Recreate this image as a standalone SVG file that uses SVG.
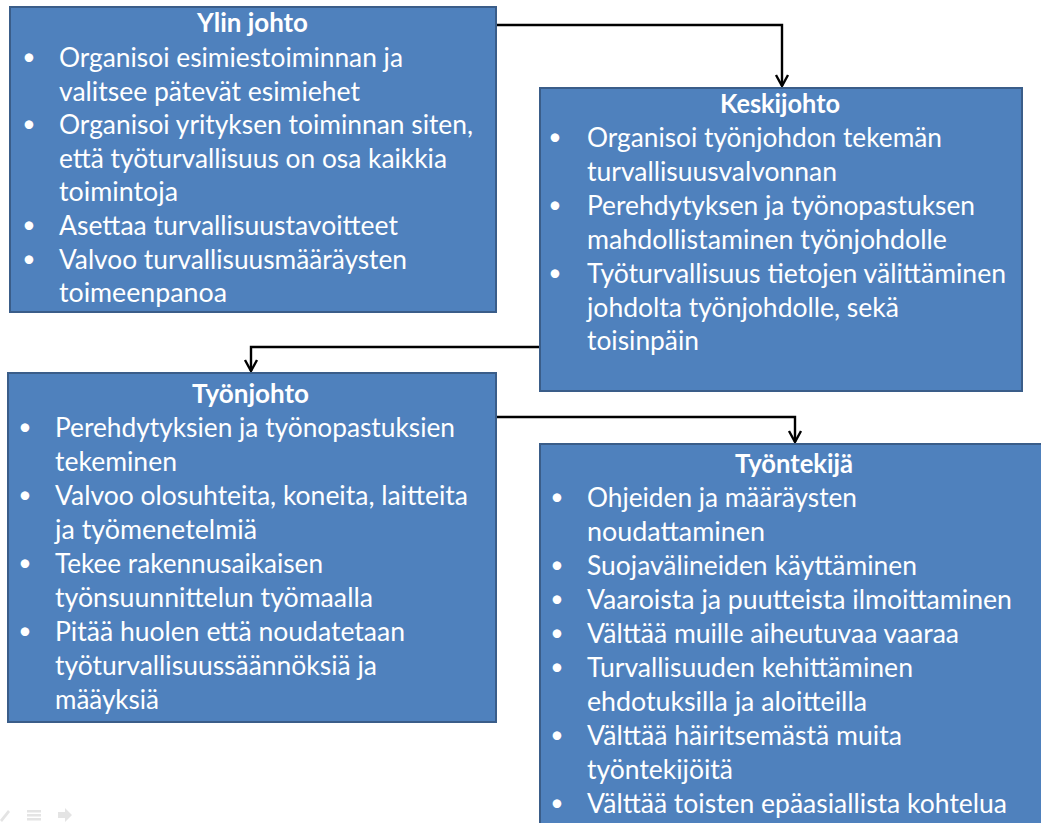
<svg xmlns="http://www.w3.org/2000/svg" width="1041" height="823" viewBox="0 0 1041 823">
<defs>
<style>
.box{fill:#4f81bd;stroke:#3a5d89;stroke-width:2}
.t{font-family:Lato,"Open Sans","Liberation Sans",sans-serif;font-size:27px;fill:#ffffff}
.h{font-weight:bold;font-size:26.5px;text-anchor:middle}
.b{font-size:23px;text-anchor:middle}
.conn{fill:none;stroke:#000000;stroke-width:2.4}
.head{fill:none;stroke:#000000;stroke-width:2.4}
.icon{fill:#e4e4e4;stroke:none}
</style>
</defs>
<rect width="1041" height="823" fill="#ffffff"/>

<g id="connectors">
<path class="conn" d="M496,25 H782 V86"/>
<path class="conn" d="M539,347 H251 V371"/>
<path class="conn" d="M496,417 H795 V442"/>
<path class="head" d="M776,75 L782,86 L788,75"/>
<path class="head" d="M245,360 L251,371 L257,360"/>
<path class="head" d="M789,431 L795,442 L801,431"/>
</g>

<g id="ylin-johto">
<rect class="box" x="10" y="7" width="486" height="305"/>
<text class="t h" x="252.5" y="32" textLength="111" lengthAdjust="spacingAndGlyphs">Ylin johto</text>
<g class="t">
<text class="b" x="29" y="65">•</text><text x="59" y="67" textLength="344" lengthAdjust="spacingAndGlyphs">Organisoi esimiestoiminnan ja</text>
<text x="59" y="100.6" textLength="301" lengthAdjust="spacingAndGlyphs">valitsee pätevät esimiehet</text>
<text class="b" x="29" y="132.2">•</text><text x="59" y="134.2" textLength="414" lengthAdjust="spacingAndGlyphs">Organisoi yrityksen toiminnan siten,</text>
<text x="59" y="167.8" textLength="388" lengthAdjust="spacingAndGlyphs">että työturvallisuus on osa kaikkia</text>
<text x="59" y="201.4" textLength="119" lengthAdjust="spacingAndGlyphs">toimintoja</text>
<text class="b" x="29" y="233">•</text><text x="59" y="235" textLength="339" lengthAdjust="spacingAndGlyphs">Asettaa turvallisuustavoitteet</text>
<text class="b" x="29" y="266.6">•</text><text x="59" y="268.6" textLength="348" lengthAdjust="spacingAndGlyphs">Valvoo turvallisuusmääräysten</text>
<text x="59" y="302" textLength="168" lengthAdjust="spacingAndGlyphs">toimeenpanoa</text>
</g>
</g>

<g id="keskijohto">
<rect class="box" x="540" y="88" width="482" height="303"/>
<text class="t h" x="780" y="112.7" textLength="120" lengthAdjust="spacingAndGlyphs">Keskijohto</text>
<g class="t">
<text class="b" x="555" y="144.7">•</text><text x="587" y="146.7" textLength="355" lengthAdjust="spacingAndGlyphs">Organisoi työnjohdon tekemän</text>
<text x="587" y="180.7" textLength="250" lengthAdjust="spacingAndGlyphs">turvallisuusvalvonnan</text>
<text class="b" x="555" y="213">•</text><text x="587" y="215" textLength="388" lengthAdjust="spacingAndGlyphs">Perehdytyksen ja työnopastuksen</text>
<text x="587" y="248.5" textLength="360" lengthAdjust="spacingAndGlyphs">mahdollistaminen työnjohdolle</text>
<text class="b" x="555" y="281">•</text><text x="587" y="283" textLength="419" lengthAdjust="spacingAndGlyphs">Työturvallisuus tietojen välittäminen</text>
<text x="587" y="317" textLength="312" lengthAdjust="spacingAndGlyphs">johdolta työnjohdolle, sekä</text>
<text x="587" y="350" textLength="112" lengthAdjust="spacingAndGlyphs">toisinpäin</text>
</g>
</g>

<g id="tyonjohto">
<rect class="box" x="8" y="373" width="488" height="349"/>
<text class="t h" x="250.5" y="403" textLength="117" lengthAdjust="spacingAndGlyphs">Työnjohto</text>
<g class="t">
<text class="b" x="25" y="435">•</text><text x="55" y="437" textLength="400" lengthAdjust="spacingAndGlyphs">Perehdytyksien ja työnopastuksien</text>
<text x="55" y="471" textLength="122" lengthAdjust="spacingAndGlyphs">tekeminen</text>
<text class="b" x="25" y="503">•</text><text x="55" y="505" textLength="413" lengthAdjust="spacingAndGlyphs">Valvoo olosuhteita, koneita, laitteita</text>
<text x="55" y="539" textLength="202" lengthAdjust="spacingAndGlyphs">ja työmenetelmiä</text>
<text class="b" x="25" y="571">•</text><text x="55" y="573" textLength="268" lengthAdjust="spacingAndGlyphs">Tekee rakennusaikaisen</text>
<text x="55" y="607" textLength="318" lengthAdjust="spacingAndGlyphs">työnsuunnittelun työmaalla</text>
<text class="b" x="25" y="639">•</text><text x="55" y="641" textLength="350" lengthAdjust="spacingAndGlyphs">Pitää huolen että noudatetaan</text>
<text x="55" y="675" textLength="322" lengthAdjust="spacingAndGlyphs">työturvallisuussäännöksiä ja</text>
<text x="55" y="709" textLength="104" lengthAdjust="spacingAndGlyphs">määyksiä</text>
</g>
</g>

<g id="tyontekija">
<rect class="box" x="540" y="444" width="510" height="390"/>
<text class="t h" x="794" y="473" textLength="118" lengthAdjust="spacingAndGlyphs">Työntekijä</text>
<g class="t">
<text class="b" x="557" y="505">•</text><text x="587" y="507" textLength="270" lengthAdjust="spacingAndGlyphs">Ohjeiden ja määräysten</text>
<text x="587" y="541" textLength="178" lengthAdjust="spacingAndGlyphs">noudattaminen</text>
<text class="b" x="557" y="573">•</text><text x="587" y="575" textLength="330" lengthAdjust="spacingAndGlyphs">Suojavälineiden käyttäminen</text>
<text class="b" x="557" y="607">•</text><text x="587" y="609" textLength="425" lengthAdjust="spacingAndGlyphs">Vaaroista ja puutteista ilmoittaminen</text>
<text class="b" x="557" y="641">•</text><text x="587" y="643" textLength="372" lengthAdjust="spacingAndGlyphs">Välttää muille aiheutuvaa vaaraa</text>
<text class="b" x="557" y="675">•</text><text x="587" y="677" textLength="326" lengthAdjust="spacingAndGlyphs">Turvallisuuden kehittäminen</text>
<text x="587" y="711" textLength="280" lengthAdjust="spacingAndGlyphs">ehdotuksilla ja aloitteilla</text>
<text class="b" x="557" y="743">•</text><text x="587" y="745" textLength="315" lengthAdjust="spacingAndGlyphs">Välttää häiritsemästä muita</text>
<text x="587" y="779" textLength="146" lengthAdjust="spacingAndGlyphs">työntekijöitä</text>
<text class="b" x="557" y="811">•</text><text x="587" y="813" textLength="420" lengthAdjust="spacingAndGlyphs">Välttää toisten epäasiallista kohtelua</text>
</g>
</g>

<g id="slide-controls">
<path class="icon" d="M0,820 L8,810 L10,812 L2,822 Z"/>
<rect class="icon" x="27" y="810" width="14" height="2.5"/>
<rect class="icon" x="27" y="814" width="14" height="2.5"/>
<rect class="icon" x="27" y="818" width="14" height="2.5"/>
<path class="icon" d="M58,812 H65 V808 L72,815 L65,822 V818 H58 Z"/>
</g>
</svg>
